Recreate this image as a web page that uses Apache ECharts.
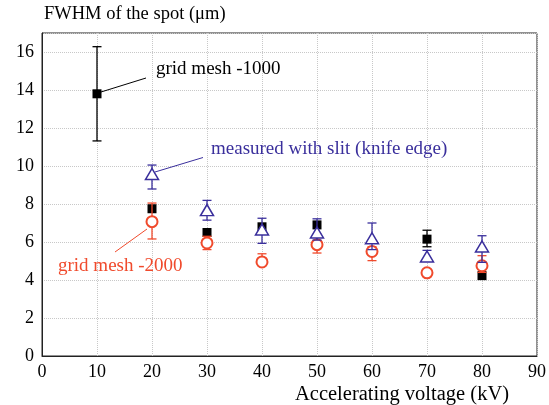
<!DOCTYPE html>
<html>
<head>
<meta charset="utf-8">
<script src="https://cdn.jsdelivr.net/npm/echarts@6/dist/echarts.min.js"></script>
<style>
  html, body { margin: 0; padding: 0; background: #fff; }
  #chart { width: 549px; height: 405px; }
</style>
</head>
<body>
<div id="chart"></div>
<script>
// accelerating voltage (kV)
const voltages = [10, 20, 30, 40, 50, 60, 70, 80]

// grid mesh -1000 (black squares)
const mesh1000 = [13.8, 7.75, 6.5, 6.8, 6.9, null, 6.15, 4.23]
const mesh1000Low = [11.32, null, null, null, null, null, 5.75, null]
const mesh1000High = [16.28, null, null, null, null, null, 6.62, null]

// measured with slit (knife edge) (blue triangles)
const slit = [null, 9.58, 7.68, 6.66, 6.5, 6.2, 5.24, 5.76]
const slitLow = [null, 8.79, 7.15, 5.93, 6.1, 5.6, 4.98, 4.93]
const slitHigh = [null, 10.05, 8.19, 7.25, 7.22, 7.0, 5.56, 6.33]

// grid mesh -2000 (red circles)
const mesh2000 = [null, 7.07, 5.95, 4.95, 5.86, 5.5, 4.38, 4.75]
const mesh2000Low = [null, 6.16, 5.6, 4.8, 5.42, 5.02, 4.3, 4.4]
const mesh2000High = [null, 8.05, 6.3, 5.38, 6.4, 5.75, 4.5, 5.28]

const BLACK = '#000000'
const BLUE = '#3a2f9c'
const RED = '#f04a2c'
const FONT = 'Liberation Serif'

const chart = echarts.init(document.getElementById('chart'), null, { renderer: 'canvas' })

// build [x, y] pairs, skipping missing points
const points = (vals) => voltages.map((v, i) => [v, vals[i]]).filter((d) => d[1] != null)

// vertical error bar with caps, drawn through the axes
const errorBars = (name, lows, highs, color, z) => ({
  type: 'custom',
  name,
  z,
  silent: true,
  data: voltages.map((v, i) => [v, lows[i], highs[i]]).filter((d) => d[1] != null),
  encode: { x: 0, y: [1, 2] },
  renderItem: (params, api) => {
    const x = api.value(0)
    const lo = api.coord([x, api.value(1)])
    const hi = api.coord([x, api.value(2)])
    const w = 4.5
    const style = { stroke: color, lineWidth: 1.3 }
    return {
      type: 'group',
      children: [
        { type: 'line', shape: { x1: lo[0], y1: lo[1], x2: hi[0], y2: hi[1] }, style },
        { type: 'line', shape: { x1: lo[0] - w, y1: lo[1], x2: lo[0] + w, y2: lo[1] }, style },
        { type: 'line', shape: { x1: hi[0] - w, y1: hi[1], x2: hi[0] + w, y2: hi[1] }, style }
      ]
    }
  }
})

const option = {
  animation: false,
  grid: {
    left: 42,
    right: 10,
    top: 33,
    bottom: 49,
    show: true,
    borderColor: '#222',
    borderWidth: 1
  },
  xAxis: {
    type: 'value',
    min: 0,
    max: 90,
    interval: 10,
    axisLine: { show: true, lineStyle: { color: '#222', width: 1 } },
    axisTick: { show: false },
    axisLabel: { color: '#000', fontFamily: FONT, fontSize: 18, margin: 7 },
    splitLine: { show: true, lineStyle: { color: '#c8c8c8', type: 'dotted', width: 1 } }
  },
  yAxis: {
    type: 'value',
    min: 0,
    max: 17,
    interval: 2,
    axisLine: { show: true, lineStyle: { color: '#222', width: 1 } },
    axisTick: { show: false },
    axisLabel: {
      color: '#000',
      fontFamily: FONT,
      fontSize: 18,
      margin: 8,
      formatter: (v) => (v % 2 === 0 ? v : '')
    },
    splitLine: { show: true, lineStyle: { color: '#c8c8c8', type: 'dotted', width: 1 } }
  },
  series: [
    errorBars('err1000', mesh1000Low, mesh1000High, BLACK, 2),
    {
      type: 'scatter',
      name: 'grid mesh -1000',
      z: 3,
      symbol: 'rect',
      symbolSize: 9,
      itemStyle: { color: BLACK, opacity: 1 },
      data: points(mesh1000)
    },
    errorBars('err2000', mesh2000Low, mesh2000High, RED, 4),
    {
      type: 'scatter',
      name: 'grid mesh -2000',
      z: 5,
      symbol: 'circle',
      symbolSize: 11,
      itemStyle: { color: '#fff', borderColor: RED, borderWidth: 2, opacity: 1 },
      data: points(mesh2000)
    },
    errorBars('errSlit', slitLow, slitHigh, BLUE, 6),
    {
      type: 'scatter',
      name: 'measured with slit (knife edge)',
      z: 7,
      symbol: 'triangle',
      symbolSize: [13, 11],
      itemStyle: { color: '#fff', borderColor: BLUE, borderWidth: 1.5, opacity: 1 },
      data: points(slit)
    }
  ],
  graphic: [
    // axis titles
    {
      type: 'text', left: 44, top: 5,
      style: { text: 'FWHM of the spot (μm)', fill: '#000', font: '18.5px "Liberation Serif"' }
    },
    {
      type: 'text', left: 295, top: 384,
      style: { text: 'Accelerating voltage (kV)', fill: '#000', font: '20.5px "Liberation Serif"' }
    },
    // annotations with leader lines
    {
      type: 'line', shape: { x1: 101, y1: 92, x2: 146, y2: 78 },
      style: { stroke: BLACK, lineWidth: 1 }, z: 10
    },
    {
      type: 'text', left: 156, top: 60,
      style: { text: 'grid mesh -1000', fill: '#000', font: '19px "Liberation Serif"' }, z: 10
    },
    {
      type: 'line', shape: { x1: 155, y1: 172, x2: 203, y2: 157.5 },
      style: { stroke: BLUE, lineWidth: 1 }, z: 10
    },
    {
      type: 'text', left: 211, top: 140,
      style: { text: 'measured with slit (knife edge)', fill: BLUE, font: '19px "Liberation Serif"' }, z: 10
    },
    {
      type: 'line', shape: { x1: 115, y1: 252, x2: 147, y2: 229 },
      style: { stroke: RED, lineWidth: 1 }, z: 10
    },
    {
      type: 'text', left: 58, top: 257,
      style: { text: 'grid mesh -2000', fill: RED, font: '19px "Liberation Serif"' }, z: 10
    }
  ]
}

chart.setOption(option)
</script>
</body>
</html>
